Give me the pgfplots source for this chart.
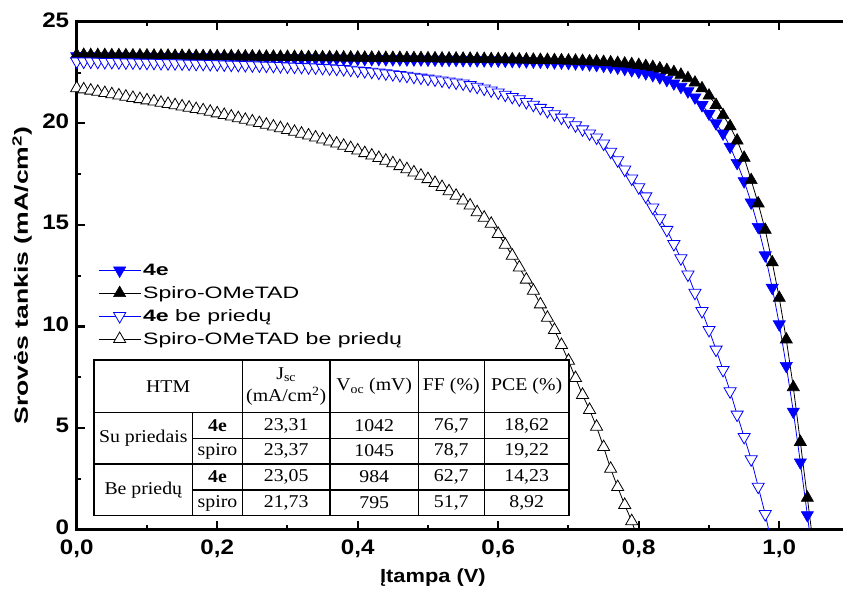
\documentclass[border=0pt]{standalone}
\usepackage{fontspec}
\setmainfont{Liberation Sans}[FakeStretch=1.15]
\newfontfamily\tabfont{Liberation Serif}[FakeStretch=1.1]
\newfontfamily\widefont{Liberation Sans}[FakeStretch=1.4]
\usepackage{pgfplots}
\usepackage{pgfplotstable}
\pgfplotsset{compat=1.18}

\pgfplotstableread{
V J
0.00 23.31
0.01 23.31
0.02 23.30
0.03 23.30
0.04 23.30
0.05 23.29
0.06 23.29
0.07 23.29
0.08 23.28
0.09 23.28
0.10 23.28
0.11 23.27
0.12 23.27
0.13 23.27
0.14 23.26
0.15 23.26
0.16 23.26
0.17 23.25
0.18 23.25
0.19 23.25
0.20 23.24
0.21 23.24
0.22 23.24
0.23 23.23
0.24 23.23
0.25 23.23
0.26 23.22
0.27 23.22
0.28 23.22
0.29 23.21
0.30 23.21
0.31 23.21
0.32 23.20
0.33 23.20
0.34 23.20
0.35 23.19
0.36 23.19
0.37 23.19
0.38 23.18
0.39 23.18
0.40 23.18
0.41 23.17
0.42 23.17
0.43 23.17
0.44 23.16
0.45 23.16
0.46 23.16
0.47 23.15
0.48 23.15
0.49 23.15
0.50 23.14
0.51 23.14
0.52 23.13
0.53 23.13
0.54 23.13
0.55 23.12
0.56 23.12
0.57 23.11
0.58 23.11
0.59 23.10
0.60 23.10
0.61 23.09
0.62 23.08
0.63 23.07
0.64 23.06
0.65 23.05
0.66 23.04
0.67 23.03
0.68 23.01
0.69 23.00
0.70 22.98
0.71 22.96
0.72 22.94
0.73 22.91
0.74 22.88
0.75 22.84
0.76 22.80
0.77 22.75
0.78 22.69
0.79 22.62
0.80 22.55
0.81 22.47
0.82 22.38
0.83 22.27
0.84 22.14
0.85 21.97
0.86 21.80
0.87 21.58
0.88 21.28
0.89 20.90
0.90 20.48
0.91 20.00
0.92 19.50
0.93 18.85
0.94 18.05
0.95 17.15
0.96 16.10
0.97 14.90
0.98 13.50
0.99 11.90
1.00 10.10
1.01 8.05
1.02 5.80
1.03 3.30
1.04 0.70
1.05 -2.00
}\dataFour

\pgfplotstableread{
V J
0.00 23.37
0.01 23.37
0.02 23.36
0.03 23.36
0.04 23.36
0.05 23.35
0.06 23.35
0.07 23.35
0.08 23.34
0.09 23.34
0.10 23.34
0.11 23.33
0.12 23.33
0.13 23.33
0.14 23.32
0.15 23.32
0.16 23.32
0.17 23.31
0.18 23.31
0.19 23.31
0.20 23.30
0.21 23.30
0.22 23.30
0.23 23.29
0.24 23.29
0.25 23.29
0.26 23.28
0.27 23.28
0.28 23.28
0.29 23.27
0.30 23.27
0.31 23.27
0.32 23.26
0.33 23.26
0.34 23.26
0.35 23.25
0.36 23.25
0.37 23.25
0.38 23.24
0.39 23.24
0.40 23.24
0.41 23.23
0.42 23.23
0.43 23.23
0.44 23.22
0.45 23.22
0.46 23.22
0.47 23.21
0.48 23.21
0.49 23.21
0.50 23.20
0.51 23.20
0.52 23.19
0.53 23.19
0.54 23.19
0.55 23.18
0.56 23.18
0.57 23.17
0.58 23.17
0.59 23.16
0.60 23.16
0.61 23.15
0.62 23.15
0.63 23.14
0.64 23.14
0.65 23.13
0.66 23.12
0.67 23.12
0.68 23.11
0.69 23.10
0.70 23.09
0.71 23.08
0.72 23.07
0.73 23.05
0.74 23.04
0.75 23.02
0.76 23.00
0.77 22.97
0.78 22.94
0.79 22.91
0.80 22.87
0.81 22.82
0.82 22.77
0.83 22.70
0.84 22.62
0.85 22.52
0.86 22.39
0.87 22.22
0.88 22.00
0.89 21.72
0.90 21.36
0.91 20.90
0.92 20.40
0.93 19.85
0.94 19.15
0.95 18.30
0.96 17.20
0.97 16.05
0.98 14.75
0.99 13.15
1.00 11.40
1.01 9.35
1.02 7.00
1.03 4.30
1.04 1.55
1.05 -1.20
}\dataSpiro

\pgfplotstableread{
V J
0.00 23.05
0.01 23.04
0.02 23.04
0.03 23.03
0.04 23.02
0.05 23.02
0.06 23.01
0.07 23.00
0.08 23.00
0.09 22.99
0.10 22.98
0.11 22.98
0.12 22.97
0.13 22.96
0.14 22.96
0.15 22.95
0.16 22.94
0.17 22.93
0.18 22.93
0.19 22.92
0.20 22.91
0.21 22.90
0.22 22.89
0.23 22.88
0.24 22.87
0.25 22.86
0.26 22.85
0.27 22.84
0.28 22.83
0.29 22.82
0.30 22.80
0.31 22.79
0.32 22.78
0.33 22.76
0.34 22.75
0.35 22.73
0.36 22.71
0.37 22.69
0.38 22.67
0.39 22.64
0.40 22.60
0.41 22.57
0.42 22.54
0.43 22.50
0.44 22.46
0.45 22.42
0.46 22.38
0.47 22.34
0.48 22.29
0.49 22.25
0.50 22.20
0.51 22.16
0.52 22.11
0.53 22.06
0.54 22.01
0.55 21.96
0.56 21.88
0.57 21.80
0.58 21.71
0.59 21.62
0.60 21.52
0.61 21.41
0.62 21.30
0.63 21.18
0.64 21.05
0.65 20.91
0.66 20.76
0.67 20.61
0.68 20.45
0.69 20.28
0.70 20.10
0.71 19.90
0.72 19.70
0.73 19.50
0.74 19.30
0.75 19.00
0.76 18.60
0.77 18.18
0.78 17.72
0.79 17.28
0.80 16.85
0.81 16.40
0.82 15.85
0.83 15.32
0.84 14.75
0.85 14.05
0.86 13.35
0.87 12.55
0.88 11.65
0.89 10.75
0.90 9.82
0.91 8.85
0.92 7.85
0.93 6.80
0.94 5.65
0.95 4.55
0.96 3.45
0.97 2.10
0.98 0.75
0.99 -0.80
}\dataFourNo

\pgfplotstableread{
V J
0.00 21.73
0.01 21.67
0.02 21.61
0.03 21.55
0.04 21.49
0.05 21.43
0.06 21.37
0.07 21.31
0.08 21.25
0.09 21.19
0.10 21.13
0.11 21.07
0.12 21.01
0.13 20.95
0.14 20.89
0.15 20.83
0.16 20.77
0.17 20.70
0.18 20.64
0.19 20.57
0.20 20.49
0.21 20.41
0.22 20.33
0.23 20.25
0.24 20.17
0.25 20.09
0.26 20.01
0.27 19.93
0.28 19.84
0.29 19.76
0.30 19.67
0.31 19.58
0.32 19.49
0.33 19.40
0.34 19.30
0.35 19.20
0.36 19.10
0.37 19.00
0.38 18.89
0.39 18.78
0.40 18.66
0.41 18.53
0.42 18.41
0.43 18.29
0.44 18.16
0.45 18.03
0.46 17.89
0.47 17.74
0.48 17.58
0.49 17.42
0.50 17.25
0.51 17.06
0.52 16.86
0.53 16.65
0.54 16.43
0.55 16.20
0.56 15.95
0.57 15.62
0.58 15.35
0.59 15.05
0.60 14.55
0.61 14.02
0.62 13.48
0.63 12.90
0.64 12.30
0.65 11.75
0.66 11.08
0.67 10.42
0.68 9.82
0.69 9.08
0.70 8.30
0.71 7.45
0.72 6.62
0.73 5.88
0.74 5.05
0.75 4.05
0.76 2.98
0.77 2.08
0.78 1.20
0.79 0.40
0.80 -0.60
}\dataSpiroNo

\begin{document}
\begin{tikzpicture}
\path[use as bounding box] (0,0) rectangle (843pt,590pt);
\begin{axis}[
  at={(76.7pt,60.7pt)}, anchor=south west,
  scale only axis, width=769.3pt, height=507.5pt,
  xmin=0, xmax=1.095, ymin=0, ymax=25,
  xtick={0,0.2,0.4,0.6,0.8,1.0},
  xticklabels={{0,0},{0,2},{0,4},{0,6},{0,8},{1,0}},
  ytick={0,5,10,15,20,25},
  yticklabels={0,5,10,15,20,25},
  minor x tick num=1, minor y tick num=1,
  tick align=inside,
  ytick pos=left,
  axis line style={line width=2.6pt},
  major tick length=8pt, minor tick length=4pt,
  major tick style={line width=2.4pt, black},
  minor tick style={line width=2pt, black},
  ticklabel style={font=\fontsize{21}{24}\selectfont\bfseries},
  yticklabel style={xshift=-4pt, yshift=2pt},
  xticklabel style={yshift=-7pt},
  xlabel={Įtampa (V)},
  ylabel={Srovės tankis (mA/cm\textsuperscript{2})},
  xlabel style={at={(axis description cs:0.463,-0.096)}, anchor=center, font=\fontsize{19}{22}\selectfont\bfseries},
  ylabel style={at={(axis description cs:-0.0711,0.5)}, anchor=center, font=\widefont\fontsize{19}{22}\selectfont\bfseries},
  legend style={at={(axis description cs:0.0277,0.527)}, anchor=north west, draw=none, fill=none,
     font=\widefont\fontsize{16.5}{19}\selectfont, row sep=5.5pt, inner sep=0pt},
  legend cell align=left,
  legend image code/.code={\draw[mark repeat=2,mark phase=2] plot coordinates {(0cm,0cm) (0.74cm,0cm) (1.48cm,0cm)};},
]
\addplot[blue, line width=0.8pt, mark=triangle*, mark size=7pt, mark options={rotate=180, fill=blue, draw=blue, line width=0.6pt}] table[x=V,y=J] {\dataFour};
\addlegendentry{\textbf{4e}}
\addplot[black, line width=0.8pt, mark=triangle*, mark size=7pt, mark options={fill=black, draw=black, line width=0.6pt}] table[x=V,y=J] {\dataSpiro};
\addlegendentry{Spiro-OMeTAD}
\addplot[blue, line width=0.8pt, mark=triangle*, mark size=7pt, mark options={rotate=180, fill=white, draw=blue, line width=0.8pt}] table[x=V,y=J] {\dataFourNo};
\addlegendentry{\textbf{4e} be priedų}
\addplot[black, line width=0.8pt, mark=triangle*, mark size=7pt, mark options={fill=white, draw=black, line width=0.8pt}] table[x=V,y=J] {\dataSpiroNo};
\addlegendentry{Spiro-OMeTAD be priedų}
\end{axis}
% table
\begin{scope}[line width=1.2pt, every node/.style={font=\tabfont\fontsize{18}{20}\selectfont, inner sep=0pt}]
\fill[white] (94pt,74.3pt) rectangle (569pt,230pt);
\draw (94pt,74.3pt) rectangle (569pt,230pt);
\draw (94pt,177.3pt) -- (569pt,177.3pt);
\draw (94pt,126pt) -- (569pt,126pt);
\draw (192.7pt,151.7pt) -- (569pt,151.7pt);
\draw (192.7pt,100pt) -- (569pt,100pt);
\draw (192.7pt,74.3pt) -- (192.7pt,177.3pt);
\foreach \xx in {242.3,330,418.3,484.3} \draw (\xx pt,74.3pt) -- (\xx pt,230pt);
\node at (168.2pt,203.6pt) {HTM};
\node[align=center] at (286.2pt,203.6pt) {J\textsubscript{sc}\\[2pt](mA/cm\textsuperscript{2})};
\node at (374.2pt,203.6pt) {V\textsubscript{oc} (mV)};
\node at (451.3pt,203.6pt) {FF (\%)};
\node at (526.7pt,203.6pt) {PCE (\%)};
\node at (143.3pt,151.7pt) {Su priedais};
\node at (143.3pt,100pt) {Be priedų};
\node at (217.5pt,164.5pt) {\textbf{4e}};
\node at (217.5pt,139pt) {spiro};
\node at (217.5pt,113pt) {\textbf{4e}};
\node at (217.5pt,87pt) {spiro};
\node at (286.2pt,164.5pt) {23,31};
\node at (286.2pt,139pt) {23,37};
\node at (286.2pt,113pt) {23,05};
\node at (286.2pt,87pt) {21,73};
\node at (374.2pt,164.5pt) {1042};
\node at (374.2pt,139pt) {1045};
\node at (374.2pt,113pt) {984};
\node at (374.2pt,87pt) {795};
\node at (451.3pt,164.5pt) {76,7};
\node at (451.3pt,139pt) {78,7};
\node at (451.3pt,113pt) {62,7};
\node at (451.3pt,87pt) {51,7};
\node at (526.7pt,164.5pt) {18,62};
\node at (526.7pt,139pt) {19,22};
\node at (526.7pt,113pt) {14,23};
\node at (526.7pt,87pt) {8,92};
\end{scope}
\end{tikzpicture}
\end{document}
